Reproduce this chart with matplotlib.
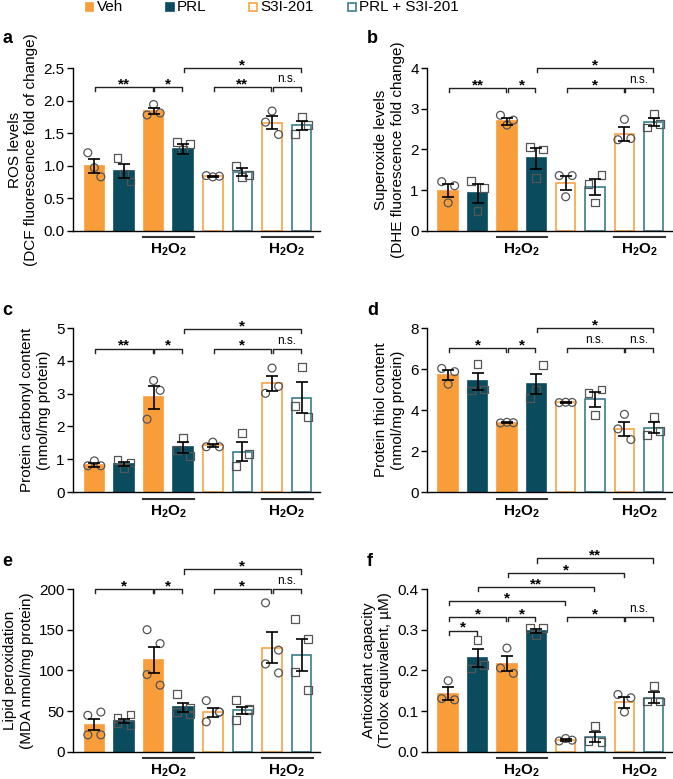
import numpy as np
import matplotlib.pyplot as plt
from matplotlib.patches import Rectangle

plt.rcParams['font.family'] = ['Liberation Sans', 'DejaVu Sans']
plt.rcParams['mathtext.fontset'] = 'custom'
plt.rcParams['mathtext.rm'] = 'Liberation Sans'
plt.rcParams['mathtext.bf'] = 'Liberation Sans:bold'

# grupos: Veh, PRL, Veh+H2O2, PRL+H2O2, S3I, PRL+S3I, S3I+H2O2, PRL+S3I+H2O2
grupos = ['Veh', 'PRL', 'Veh H2O2', 'PRL H2O2', 'S3I', 'PRL S3I', 'S3I H2O2', 'PRL S3I H2O2']
legenda = ['Veh', 'PRL', 'S3I-201', 'PRL + S3I-201']

# a - ROS
media_a = [1.00, 0.92, 1.84, 1.26, 0.84, 0.90, 1.66, 1.62]
erro_a = [0.11, 0.10, 0.05, 0.08, 0.01, 0.06, 0.10, 0.07]
pontos_a = [[1.20, 0.97, 0.83], [1.12, 0.88, 0.76], [1.78, 1.94, 1.81], [1.37, 1.24, 1.33],
            [0.85, 0.83, 0.84], [1.00, 0.83, 0.86], [1.67, 1.84, 1.48], [1.49, 1.75, 1.62]]
barras_a = [(0, 2, '**', 2.21), (2, 3, '*', 2.21), (4, 6, '**', 2.21), (6, 7, 'n.s.', 2.21), (3, 7, '*', 2.5)]

# b - superoxido
media_b = [0.99, 0.92, 2.69, 1.78, 1.17, 1.08, 2.38, 2.67]
erro_b = [0.16, 0.23, 0.09, 0.25, 0.17, 0.20, 0.17, 0.10]
pontos_b = [[1.21, 0.69, 1.11], [1.22, 0.50, 1.05], [2.84, 2.60, 2.72], [2.07, 1.29, 2.00],
            [1.36, 0.84, 1.36], [1.15, 0.70, 1.37], [2.24, 2.74, 2.27], [2.54, 2.88, 2.62]]
barras_b = [(0, 2, '**', 3.51), (2, 3, '*', 3.51), (4, 6, '*', 3.51), (6, 7, 'n.s.', 3.51), (3, 7, '*', 4.0)]

# c - carbonil
media_c = [0.82, 0.85, 2.89, 1.36, 1.42, 1.23, 3.31, 2.87]
erro_c = [0.05, 0.06, 0.35, 0.17, 0.05, 0.29, 0.24, 0.47]
pontos_c = [[0.80, 0.95, 0.80], [0.98, 0.74, 0.90], [2.22, 3.40, 3.10], [1.28, 1.64, 1.10],
            [1.38, 1.52, 1.38], [0.80, 1.79, 1.16], [3.01, 3.78, 3.22], [2.63, 3.81, 2.28]]
barras_c = [(0, 2, '**', 4.37), (2, 3, '*', 4.37), (4, 6, '*', 4.37), (6, 7, 'n.s.', 4.37), (3, 7, '*', 4.97)]

# d - tiol
media_d = [5.70, 5.40, 3.38, 5.28, 4.37, 4.52, 3.06, 3.14]
erro_d = [0.23, 0.42, 0.03, 0.48, 0.02, 0.38, 0.35, 0.27]
pontos_d = [[6.03, 5.26, 5.87], [4.95, 6.25, 5.00], [3.37, 3.40, 3.38], [4.60, 5.00, 6.20],
            [4.36, 4.38, 4.37], [4.85, 3.75, 5.00], [3.08, 3.79, 2.56], [2.80, 3.67, 2.97]]
barras_d = [(0, 2, '*', 7.03), (2, 3, '*', 7.03), (4, 6, 'n.s.', 7.03), (6, 7, 'n.s.', 7.03), (3, 7, '*', 8.0)]

# e - peroxidacao lipidica
media_e = [33.5, 38.0, 113, 54.7, 48.6, 51.0, 128, 119]
erro_e = [7.0, 3.0, 16.0, 5.5, 5.5, 4.0, 19.0, 20.0]
pontos_e = [[45, 49, 21, 21], [42, 46, 35, 33], [150, 133, 95, 82], [71, 46, 49, 54],
            [63, 49, 37, 49], [64, 53, 39, 51], [183, 125, 108, 97], [163, 139, 98, 76]]
barras_e = [(0, 2, '*', 200), (2, 3, '*', 200), (4, 6, '*', 200), (6, 7, 'n.s.', 200), (3, 7, '*', 224)]

# f - capacidade antioxidante
media_f = [0.143, 0.231, 0.217, 0.298, 0.030, 0.037, 0.122, 0.133]
erro_f = [0.016, 0.022, 0.019, 0.005, 0.003, 0.013, 0.013, 0.013]
pontos_f = [[0.131, 0.175, 0.128], [0.205, 0.274, 0.214], [0.206, 0.255, 0.193], [0.304, 0.288, 0.304],
            [0.027, 0.033, 0.029], [0.026, 0.063, 0.024], [0.141, 0.098, 0.133], [0.124, 0.161, 0.124]]
barras_f = [(0, 1, '*', 0.298), (0, 2, '*', 0.331), (2, 3, '*', 0.331), (0, 4, '*', 0.370),
            (1, 5, '**', 0.404), (2, 6, '*', 0.439), (3, 7, '**', 0.475),
            (4, 6, '*', 0.331), (6, 7, 'n.s.', 0.331)]

laranja = '#F99D3B'
azul = '#0A4C5E'
cor_face = [laranja, azul, laranja, azul, 'white', 'white', 'white', 'white']
cor_borda = [laranja, azul, laranja, azul, '#F9A443', '#3C7C8C', '#F9A443', '#3C7C8C']
marcador = ['o', 's', 'o', 's', 'o', 's', 'o', 's']


def painel(ax, media, erro, pontos, barras, yticks, fmt, ylabel, letra):
    x = np.arange(len(media))
    ax.bar(x, media, width=0.66, color=cor_face, edgecolor=cor_borda, linewidth=1.2, zorder=1)
    for i in x:
        n = len(pontos[i])
        if n == 3:
            dx = [-0.22, 0.0, 0.22]
        else:
            dx = [-0.22, 0.22, -0.22, 0.22]
        ax.scatter(i + np.array(dx), pontos[i], s=32, marker=marcador[i], facecolor='none',
                   edgecolor='#555555', linewidth=0.9, zorder=3, clip_on=False)
    ax.errorbar(x, media, yerr=erro, fmt='none', ecolor='black', elinewidth=1.2,
                capsize=4, capthick=1.2, zorder=4)
    ymax = yticks[-1]
    ax.set_ylim(0, ymax)
    ax.set_xlim(-0.72, 7.62)
    ax.set_yticks(yticks)
    ax.set_yticklabels([fmt.format(v) for v in yticks])
    ax.set_xticks([])
    ax.spines['top'].set_visible(False)
    ax.spines['right'].set_visible(False)
    ax.spines['left'].set_linewidth(1.0)
    ax.spines['bottom'].set_linewidth(1.0)
    ax.tick_params(axis='y', length=4, width=1.0, labelsize=11, pad=2)
    ax.set_ylabel(ylabel, fontsize=11, labelpad=4)

    # colchetes de significancia
    h = 0.025 * ymax
    for a, b, txt, y in barras:
        xa, xb = a + 0.03, b - 0.03
        ax.plot([xa, xa, xb, xb], [y - h, y, y, y - h], color='#222222', lw=1.0,
                clip_on=False, zorder=5)
        if txt == 'n.s.':
            ax.text((a + b) / 2, y + 0.01 * ymax, txt, ha='center', va='bottom', fontsize=8.5)
        else:
            ax.text((a + b) / 2, y - 0.025 * ymax, txt, ha='center', va='bottom',
                    fontsize=11, fontweight='bold')

    # H2O2
    for c in [2.5, 6.5]:
        ax.plot([c - 0.85, c + 0.88], [-0.04, -0.04], transform=ax.get_xaxis_transform(),
                color='#333333', lw=1.5, clip_on=False)
        ax.text(c, -0.068, r'$\mathbf{H_2O_2}$', transform=ax.get_xaxis_transform(),
                ha='center', va='top', fontsize=11)

    ax.text(letra[0], letra[1], letra[2], transform=ax.figure.transFigure,
            fontsize=13, fontweight='bold', va='top')


fig = plt.figure(figsize=(6.73, 7.79), dpi=100)

ax_a = fig.add_axes([0.1085, 0.7035, 0.367, 0.2092])
ax_b = fig.add_axes([0.6345, 0.7035, 0.364, 0.2092])
ax_c = fig.add_axes([0.1085, 0.3684, 0.367, 0.2105])
ax_d = fig.add_axes([0.6345, 0.3684, 0.364, 0.2105])
ax_e = fig.add_axes([0.1085, 0.0347, 0.367, 0.2092])
ax_f = fig.add_axes([0.6345, 0.0347, 0.364, 0.2092])

painel(ax_a, media_a, erro_a, pontos_a, barras_a, [0, 0.5, 1.0, 1.5, 2.0, 2.5], '{:.1f}',
       'ROS levels\n(DCF fluorescence fold of change)', (0.003, 0.962, 'a'))
painel(ax_b, media_b, erro_b, pontos_b, barras_b, [0, 1, 2, 3, 4], '{:d}',
       'Superoxide levels\n(DHE fluorescence fold change)', (0.545, 0.962, 'b'))
painel(ax_c, media_c, erro_c, pontos_c, barras_c, [0, 1, 2, 3, 4, 5], '{:d}',
       'Protein carbonyl content\n(nmol/mg protein)', (0.003, 0.612, 'c'))
painel(ax_d, media_d, erro_d, pontos_d, barras_d, [0, 2, 4, 6, 8], '{:d}',
       'Protein thiol content\n(nmol/mg protein)', (0.545, 0.612, 'd'))
painel(ax_e, media_e, erro_e, pontos_e, barras_e, [0, 50, 100, 150, 200], '{:d}',
       'Lipid peroxidation\n(MDA nmol/mg protein)', (0.003, 0.29, 'e'))
painel(ax_f, media_f, erro_f, pontos_f, barras_f, [0, 0.1, 0.2, 0.3, 0.4], '{:.1f}',
       'Antioxidant capacity\n(Trolox equivalent, \u00b5M)', (0.545, 0.29, 'f'))

# legenda (feita a mao para acertar os espacos)
W, H = 673.0, 779.0
pos_leg = [86, 166, 249, 348]
for k, i in enumerate([0, 1, 4, 5]):
    fig.add_artist(Rectangle((pos_leg[k] / W, 1 - 10.5 / H), 7.5 / W, 7.5 / H,
                             facecolor=cor_face[i], edgecolor=cor_borda[i], linewidth=1.2,
                             transform=fig.transFigure))
    fig.text((pos_leg[k] + 11) / W, 1 - 6.8 / H, legenda[k], fontsize=11,
             ha='left', va='center')

fig.savefig('out.png', dpi=100)
